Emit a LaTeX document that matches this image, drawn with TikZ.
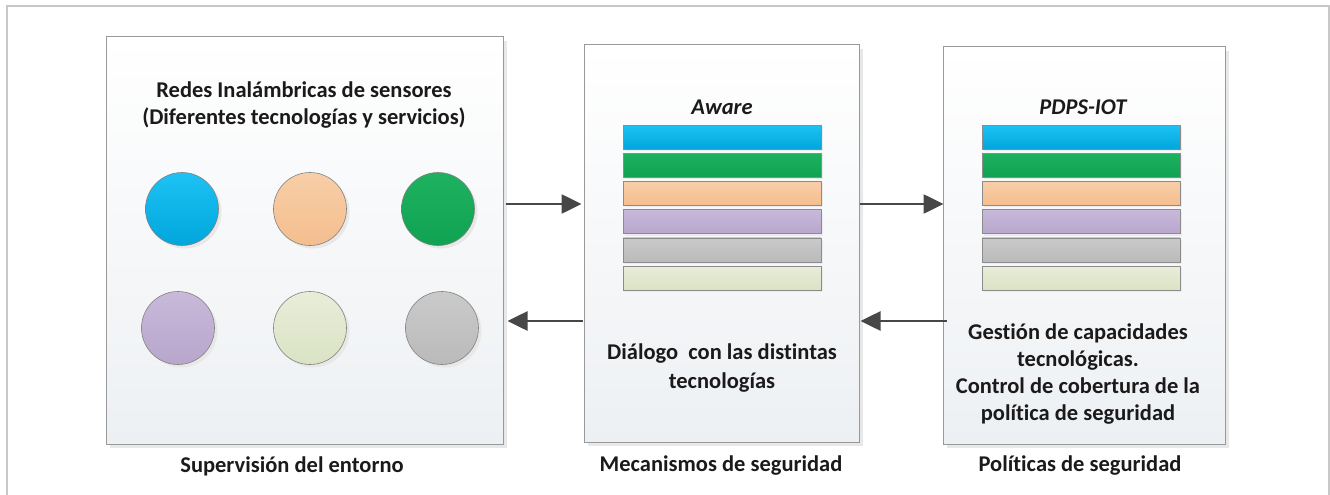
\documentclass[tikz,border=0pt]{standalone}
\usepackage{fontspec}
\setmainfont{Carlito}[Ligatures=NoCommon]
\usetikzlibrary{arrows.meta,shadows}
\definecolor{panelbot}{HTML}{EDF0F3}
\definecolor{frame}{HTML}{C8C8C8}
\definecolor{txtc}{HTML}{1A1A1A}
\tikzset{
  panel/.style={draw=black!40, line width=1pt, top color=white, bottom color=panelbot, inner sep=0pt,
    drop shadow={shadow xshift=4pt, shadow yshift=-4pt, fill=black!9, opacity=1}},
  txt/.style={font=\bfseries\fontsize{22.5}{26.5}\selectfont, text=txtc, align=center, inner sep=0pt},
  arr/.style={draw=black!72, line width=2.6pt, -{Triangle[length=20pt,width=19pt]}},
  bar/.style={draw=black!45, line width=0.6pt, minimum width=198pt, minimum height=24pt, inner sep=0pt,
    drop shadow={shadow xshift=2pt, shadow yshift=-2pt, fill=black!8, opacity=1}},
  dot/.style={circle, draw=black!50, line width=0.6pt, minimum size=73pt, inner sep=0pt,
    drop shadow={shadow xshift=3pt, shadow yshift=-3pt, fill=black!9, opacity=1}},
  cblue/.style={top color={rgb,255:red,30;green,194;blue,244}, bottom color={rgb,255:red,0;green,166;blue,220}},
  cgreen/.style={top color={rgb,255:red,30;green,178;blue,96}, bottom color={rgb,255:red,14;green,162;blue,82}},
  cpeach/.style={top color={rgb,255:red,248;green,206;blue,168}, bottom color={rgb,255:red,244;green,190;blue,142}},
  cpurple/.style={top color={rgb,255:red,200;green,185;blue,218}, bottom color={rgb,255:red,184;green,166;blue,204}},
  cgray/.style={top color={rgb,255:red,202;green,202;blue,202}, bottom color={rgb,255:red,186;green,186;blue,186}},
  clgreen/.style={top color={rgb,255:red,232;green,237;blue,216}, bottom color={rgb,255:red,218;green,227;blue,196}},
}
\begin{document}
\begin{tikzpicture}[x=1pt,y=-1pt]
\useasboundingbox (0,0) rectangle (1330,495);
% outer frame
\draw[frame, line width=1.5pt] (7,495) -- (7,6) -- (1329,6) -- (1329,495);

% panels
\node[panel, minimum width=397pt, minimum height=407pt] (sup) at (304.5,240.5) {};
\node[panel, minimum width=275pt, minimum height=397pt] (mec) at (721.5,243.5) {};
\node[panel, minimum width=282pt, minimum height=397pt] (pol) at (1084,245.5) {};

% left panel content
\node[txt] (tred) at (304,105) {Redes Inalámbricas de sensores\\(Diferentes tecnologías y servicios)};
\node[dot, cblue]   (c1) at (182,209) {};
\node[dot, cpeach]  (c2) at (310,209) {};
\node[dot, cgreen]  (c3) at (438,209) {};
\node[dot, cpurple] (c4) at (178,328) {};
\node[dot, clgreen] (c5) at (310,328) {};
\node[dot, cgray]   (c6) at (442,328) {};

% middle panel content
\node[txt, font=\bfseries\itshape\fontsize{22.5}{26}\selectfont] (taw) at (722,107) {Aware};
\node[bar, cblue]   (m1) at (722,137) {};
\node[bar, cgreen]  (m2) at (722,165.2) {};
\node[bar, cpeach]  (m3) at (722,193.4) {};
\node[bar, cpurple] (m4) at (722,221.6) {};
\node[bar, cgray]   (m5) at (722,249.8) {};
\node[bar, clgreen] (m6) at (722,278) {};
\node[txt, font=\bfseries\fontsize{22.5}{28.5}\selectfont] (tdia) at (722,368) {Diálogo~ con las distintas\\tecnologías};

% right panel content
\node[txt, font=\bfseries\itshape\fontsize{22.5}{26}\selectfont] (tpd) at (1083,107) {PDPS-IOT};
\node[bar, cblue]   (p1) at (1081,137) {};
\node[bar, cgreen]  (p2) at (1081,165.2) {};
\node[bar, cpeach]  (p3) at (1081,193.4) {};
\node[bar, cpurple] (p4) at (1081,221.6) {};
\node[bar, cgray]   (p5) at (1081,249.8) {};
\node[bar, clgreen] (p6) at (1081,278) {};
\node[txt, font=\bfseries\fontsize{22.5}{26.7}\selectfont] (tges) at (1078,374) {Gestión de capacidades\\tecnológicas.\\Control de cobertura de la\\política de seguridad};

% captions
\node[txt] (lsup) at (292,466) {Supervisión del entorno};
\node[txt] (lmec) at (721,466) {Mecanismos de seguridad};
\node[txt] (lpol) at (1080,466) {Políticas de seguridad};

% arrows
\coordinate (yt) at (0,204);
\coordinate (yb) at (0,321);
\draw[arr, shorten <=2pt, shorten >=2pt] (sup.east |- yt) -- (mec.west |- yt);
\draw[arr, shorten >=-1pt] (mec.east |- yt) -- (pol.west |- yt);
\draw[arr, shorten <=1pt, shorten >=4pt] (mec.west |- yb) -- (sup.east |- yb);
\draw[arr, shorten <=-4pt, shorten >=1pt] (pol.west |- yb) -- (mec.east |- yb);
\end{tikzpicture}
\end{document}
